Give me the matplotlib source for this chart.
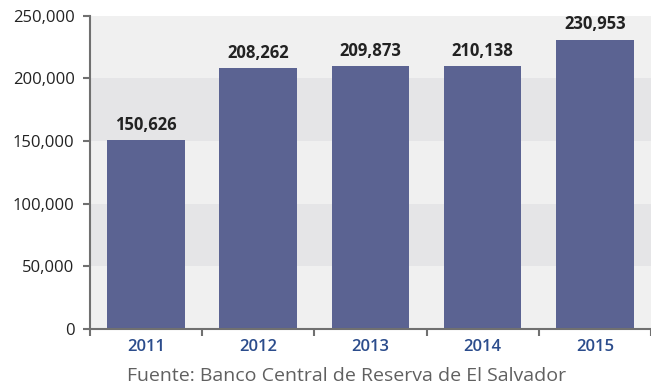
import numpy as np
import matplotlib
matplotlib.use('Agg')
import matplotlib.pyplot as plt
from matplotlib.ticker import FuncFormatter

plt.rcParams['font.family'] = ['Open Sans', 'DejaVu Sans']

years = ['2011', '2012', '2013', '2014', '2015']
values = [150626, 208262, 209873, 210138, 230953]

bar_color = '#5b6392'
year_color = '#2b4c8c'
band_light = '#f0f0f0'
band_dark = '#e5e5e7'

fig = plt.figure(figsize=(6.51, 3.87), dpi=100)
ax = fig.add_axes([0.138, 0.15, 0.862, 0.809])

# alternating background bands
for k, y0 in enumerate(range(0, 250000, 50000)):
    ax.axhspan(y0, y0 + 50000, color=band_light if k % 2 == 0 else band_dark, zorder=0, lw=0)

x = np.arange(len(years))
ax.bar(x, values, width=0.69, color=bar_color, zorder=2)
for xi, v in zip(x, values):
    ax.text(xi, v + 5000, f'{v:,}', ha='center', va='bottom', fontsize=12,
            fontweight='bold', color='#222222')

ax.set_xlim(-0.5, len(years) - 0.5)
ax.set_ylim(0, 250000)
ax.set_yticks(np.arange(0, 250001, 50000))
ax.yaxis.set_major_formatter(FuncFormatter(lambda v, p: f'{int(v):,}'))

ax.set_xticks(np.arange(-0.5, len(years), 1.0))
ax.set_xticklabels([])
ax.set_xticks(x, minor=True)
ax.set_xticklabels(years, minor=True, color=year_color, fontsize=12, fontweight='semibold')
ax.tick_params(axis='x', which='minor', length=0, pad=7)
ax.tick_params(axis='x', which='major', length=5, width=1.5, color='#707070')
ax.tick_params(axis='y', length=5, width=1.5, color='#707070', labelsize=12,
               labelcolor='#222222', pad=6)

for s in ['top', 'right']:
    ax.spines[s].set_visible(False)
for s in ['left', 'bottom']:
    ax.spines[s].set_color('#707070')
    ax.spines[s].set_linewidth(1.5)

fig.text(0.533, 0.028, 'Fuente: Banco Central de Reserva de El Salvador',
         ha='center', va='center', fontsize=14, color='#606060')

fig.savefig('out.png', dpi=100)
